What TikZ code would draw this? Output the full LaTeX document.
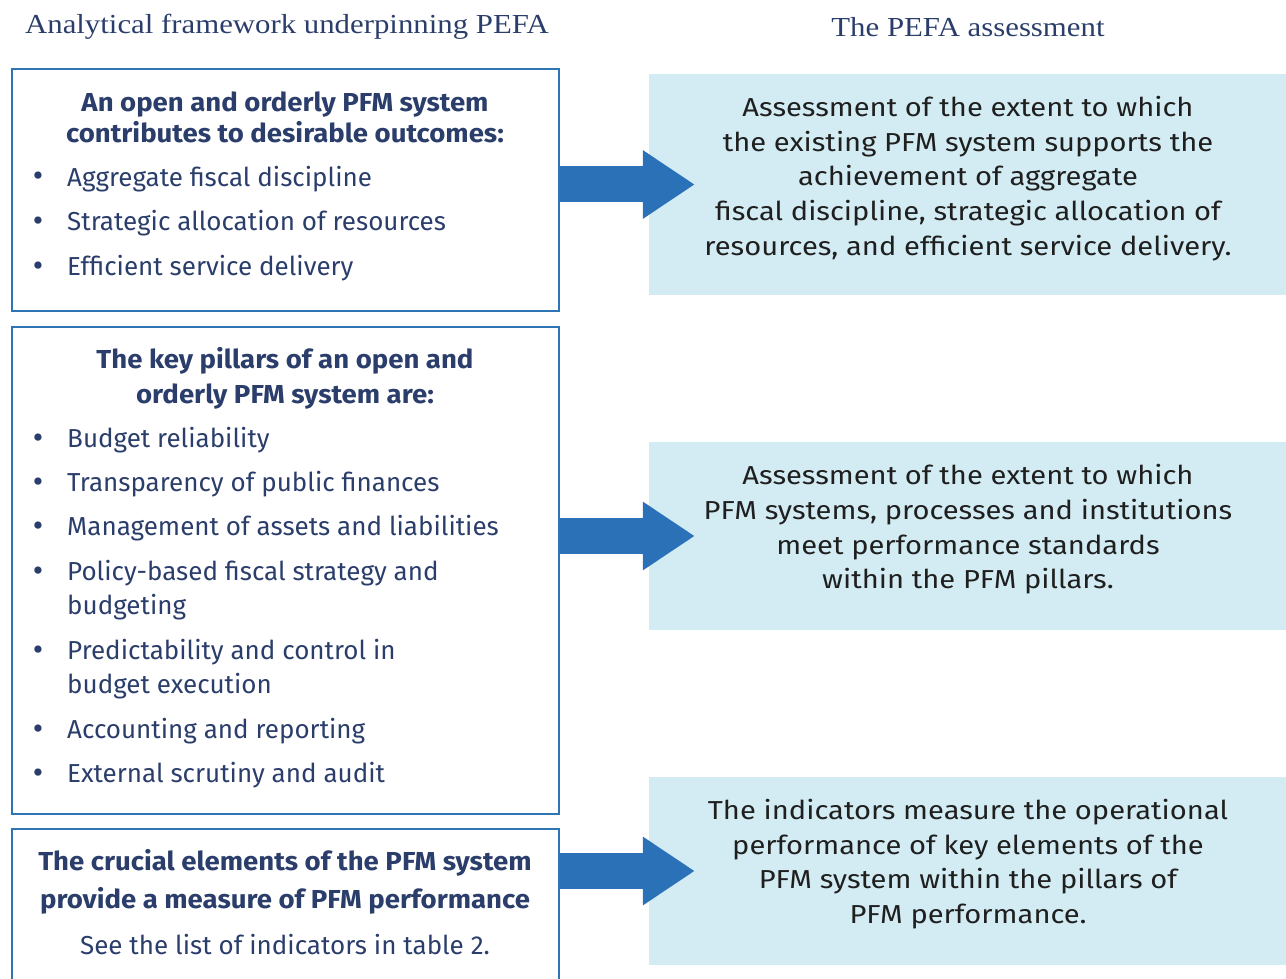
\documentclass[tikz,border=0pt]{standalone}
\usepackage{fontspec}
\setmainfont{Fira Sans}
\newfontfamily\headfont{Liberation Serif}[FakeStretch=1.12]
\newfontfamily\widefont{Fira Sans}[FakeStretch=1.12]
\newfontfamily\boldfont{Fira Sans}[FakeStretch=1.06]
\usetikzlibrary{positioning, arrows.meta}
\definecolor{pefablue}{HTML}{2E75B6}
\definecolor{pefaarrow}{HTML}{2B71B8}
\definecolor{pefanavy}{HTML}{2B3E6B}
\definecolor{pefalight}{HTML}{D3ECF3}
\definecolor{pefatext}{HTML}{1F1F1F}
\tikzstyle{framebox} = [rectangle, draw=pefablue, line width=2pt, minimum width=547pt, inner sep=0pt]
\tikzstyle{assessbox} = [rectangle, fill=pefalight, minimum width=641pt, inner sep=0pt]
\tikzstyle{coltitle} = [text=pefanavy, font=\headfont\fontsize{27.5}{32}\selectfont]
\tikzstyle{boxhead} = [text=pefanavy, align=center, font=\boldfont\bfseries\fontsize{26}{31}\selectfont]
\tikzstyle{item} = [text=pefanavy, anchor=base west, inner sep=0pt, font=\fontsize{26}{34}\selectfont]
\tikzstyle{dot} = [text=pefanavy, anchor=base, inner sep=0pt, font=\fontsize{32}{34}\selectfont]
\tikzstyle{assesstext} = [text=pefatext, align=center, font=\widefont\fontsize{26}{34.75}\selectfont]
\tikzstyle{bigarrow} = [pefaarrow, line width=36pt, -{Triangle[length=52pt,width=65pt]}, shorten >=-46pt]

\begin{document}
\begin{tikzpicture}[x=1pt, y=-1pt]
\clip (0,0) rectangle (1286,979);

% Column titles
\node (lefttitle) [coltitle] at (287,27) {Analytical framework underpinning PEFA};
\node (righttitle) [coltitle] at (968,27) {The PEFA assessment};

% Framework boxes
\node (outcomes) [framebox, minimum height=242pt] at (285.5,190) {};
\node (pillars) [framebox, minimum height=487pt] at (285.5,570.5) {};
\node (elements) [framebox, minimum height=166pt] at (285.5,912) {};

\node (outcomes-head) [boxhead] at (285,117) {An open and orderly PFM system\\contributes to desirable outcomes:};
\foreach \y/\txt in {186/Aggregate fiscal discipline, 230/Strategic allocation of resources, 275/Efficient service delivery} {
    \node[dot] at (38,\y+1) {\textbullet};
    \node[item] at (67,\y) {\txt};
}

\node (pillars-head) [boxhead, font=\boldfont\bfseries\fontsize{26}{35}\selectfont] at (285,378.5) {The key pillars of an open and\\orderly PFM system are:};
\foreach \y/\txt in {447/Budget reliability, 491/Transparency of public finances, 535/Management of assets and liabilities,
    580/{Policy-based fiscal strategy and\\budgeting}, 659/{Predictability and control in\\budget execution},
    738/Accounting and reporting, 782/External scrutiny and audit} {
    \node[dot] at (38,\y+1) {\textbullet};
    \node[item] at (67,\y) {\parbox[t]{480pt}{\txt}};
}

\node (elements-head) [boxhead, font=\boldfont\bfseries\fontsize{26}{38}\selectfont] at (285,882) {The crucial elements of the PFM system\\provide a measure of PFM performance};
\node (elements-note) [item, anchor=base] at (285,954) {See the list of indicators in table 2.};

% Assessment boxes
\node (assessA) [assessbox, minimum height=221pt] at (969.5,184.5) {};
\node (assessB) [assessbox, minimum height=188pt] at (969.5,536) {};
\node (assessC) [assessbox, minimum height=188pt] at (969.5,871) {};

\node (assessA-text) [assesstext] at (968,178.5) {Assessment of the extent to which\\the existing PFM system supports the\\achievement of aggregate\\fiscal discipline, strategic allocation of\\resources, and efficient service delivery.};
\node (assessB-text) [assesstext] at (968,529.5) {Assessment of the extent to which\\PFM systems, processes and institutions\\meet performance standards\\within the PFM pillars.};
\node (assessC-text) [assesstext] at (968,864) {The indicators measure the operational\\performance of key elements of the\\PFM system within the pillars of\\PFM performance.};

% Arrows
\draw[bigarrow] (outcomes.east |- assessA.west) -- (assessA.west);
\draw[bigarrow] (pillars.east |- assessB.west) -- (assessB.west);
\draw[bigarrow] (elements.east |- assessC.west) -- (assessC.west);

\end{tikzpicture}
\end{document}
